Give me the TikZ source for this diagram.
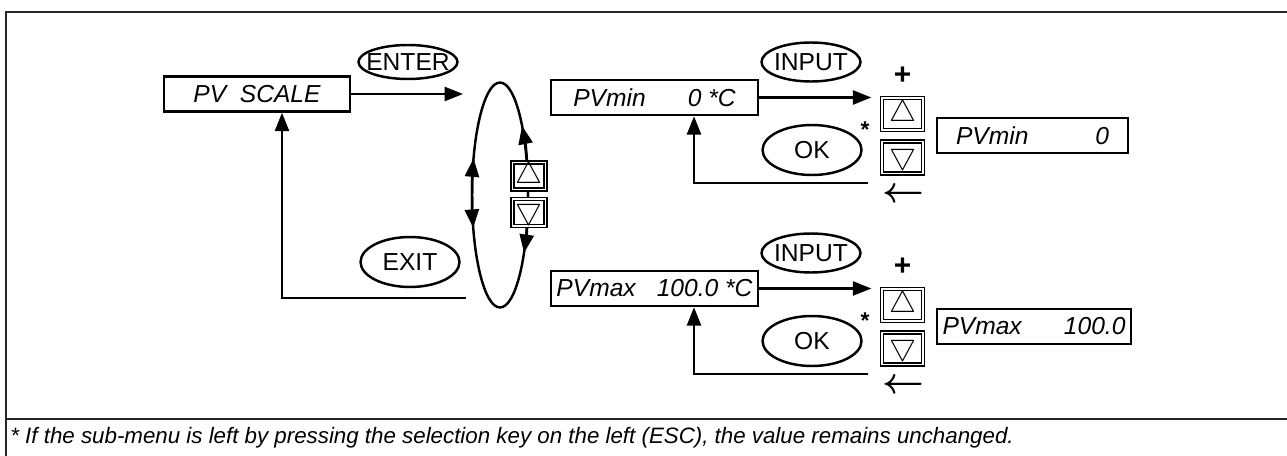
\documentclass[tikz,border=0pt]{standalone}
\usepackage{fontspec}
\setmainfont{Liberation Sans}
\usepackage{tikz}
\usetikzlibrary{positioning,arrows.meta,shapes.geometric}
\newcommand{\dispfont}{\fontsize{14}{16}\selectfont\itshape}
\newcommand{\keyfont}{\fontsize{14}{16}\selectfont}
\newcommand{\keytext}[1]{\makebox[0pt]{#1}}
\newcommand{\notefont}{\fontsize{12.7}{14}\selectfont\itshape}

\begin{document}
\begin{tikzpicture}[x=0.02cm, y=-0.02cm,
  disp/.style={draw, line width=1.4pt, font=\dispfont, inner xsep=2pt, inner ysep=0pt, minimum height=0.7cm},
  keyel/.style={draw, ellipse, line width=1.4pt, font=\keyfont, inner sep=0pt, minimum width=1.98cm},
  btn/.style={draw, double, double distance=1pt, line width=0.8pt, fill=white, inner sep=0pt},
  mbtn/.style={btn, minimum width=0.66cm, minimum height=0.52cm, font=\fontsize{16}{16}\selectfont},
  rbtn/.style={btn, minimum width=0.82cm, minimum height=0.64cm, font=\fontsize{19}{19}\selectfont},
  plus/.style={font=\fontsize{17}{17}\selectfont\bfseries, inner sep=0pt},
  back/.style={font=\fontsize{21}{21}\selectfont\boldmath, inner sep=0pt},
  star/.style={font=\fontsize{13}{13}\selectfont\bfseries, inner sep=0pt},
  arr/.style={-{Triangle[length=10.5pt,width=8pt]}, line width=1.4pt},
  frm/.style={line width=1.2pt, black!85}
]
\useasboundingbox (0,0) rectangle (1287,456);
% frame
\draw[frm] (1287,12) -- (6,12) -- (6,456);
\draw[frm] (6,419) -- (1287,419);
\node[anchor=base west, font=\notefont, inner sep=0pt] (note) at (10,443)
  {* If the sub-menu is left by pressing the selection key on the left (ESC), the value remains unchanged.};

% main menu and selection loop
\node[disp, minimum width=3.72cm] (scale) at (257,94) {PV\ \ SCALE};
\node[keyel, minimum height=0.68cm] (enter) at (408,62) {\keytext{ENTER}};
\node[keyel, minimum height=1cm] (exit) at (410,262) {\keytext{EXIT}};
\coordinate (loop) at (500,195);
\coordinate (loopin) at (463,94);
\coordinate (loopout) at (466,298);
\draw[line width=1.4pt] (loop) ellipse [x radius=0.56cm, y radius=2.25cm];
\draw[arr] ([shift={(180:0.56cm and 2.25cm)}]loop) arc [start angle=180, end angle=161, x radius=0.56cm, y radius=2.25cm];
\draw[arr] ([shift={(180:0.56cm and 2.25cm)}]loop) arc [start angle=180, end angle=197, x radius=0.56cm, y radius=2.25cm];
\draw[arr] ([shift={(0:0.56cm and 2.25cm)}]loop) arc [start angle=0, end angle=38, x radius=0.56cm, y radius=2.25cm];
\draw[arr] ([shift={(0:0.56cm and 2.25cm)}]loop) arc [start angle=0, end angle=-31, x radius=0.56cm, y radius=2.25cm];
\node[mbtn] (mup) at (529,176) {$\bigtriangleup$};
\node[mbtn, below=0.16cm of mup] (mdown) {$\bigtriangledown$};
\draw[arr] (scale) -- (loopin);
\draw[arr] (loopout) -| ([xshift=0.5cm]scale.south);

% PVmin
\node[disp, minimum width=4.14cm] (pvmin) at (654.5,97.5) {PVmin\hspace{24pt}0 *C};
\node[keyel, minimum height=0.78cm] (in1) at (811,62) {\keytext{INPUT}};
\node[keyel, minimum height=1cm] (ok1) at (812,150) {\keytext{OK}};
\node[star] (star1) at (865,130) {*};
\node[plus] (plus1) at (902.5,76) {+};
\node[rbtn] (up1) at (902.5,114) {$\bigtriangleup$};
\node[rbtn, below=0.2cm of up1] (dn1) {$\bigtriangledown$};
\node[back] (back1) at (903,195) {$\leftarrow$};
\node[disp, minimum width=3.82cm] (val1) at (1032.5,135.5) {PVmin\hspace{38pt}0};
\coordinate (ret1) at (868,183);
\draw[arr] (pvmin.east) -- ([xshift=-0.2cm]pvmin.east -| up1.west);
\draw[arr] (ret1) -| ([xshift=0.79cm]pvmin.south);

% PVmax
\node[disp, minimum width=4.14cm] (pvmax) at (654.5,288.5) {PVmax\hspace{12pt}100.0 *C};
\node[keyel, minimum height=0.78cm] (in2) at (811,253) {\keytext{INPUT}};
\node[keyel, minimum height=1cm] (ok2) at (812,341) {\keytext{OK}};
\node[star] (star2) at (865,321) {*};
\node[plus] (plus2) at (902.5,267) {+};
\node[rbtn] (up2) at (902.5,305) {$\bigtriangleup$};
\node[rbtn, below=0.2cm of up2] (dn2) {$\bigtriangledown$};
\node[back] (back2) at (903,386) {$\leftarrow$};
\node[disp, minimum width=3.88cm] (val2) at (1034,326.5) {PVmax\hspace{24pt}100.0};
\coordinate (ret2) at (868,374);
\draw[arr] (pvmax.east) -- ([xshift=-0.2cm]pvmax.east -| up2.west);
\draw[arr] (ret2) -| ([xshift=0.79cm]pvmax.south);
\end{tikzpicture}
\end{document}
